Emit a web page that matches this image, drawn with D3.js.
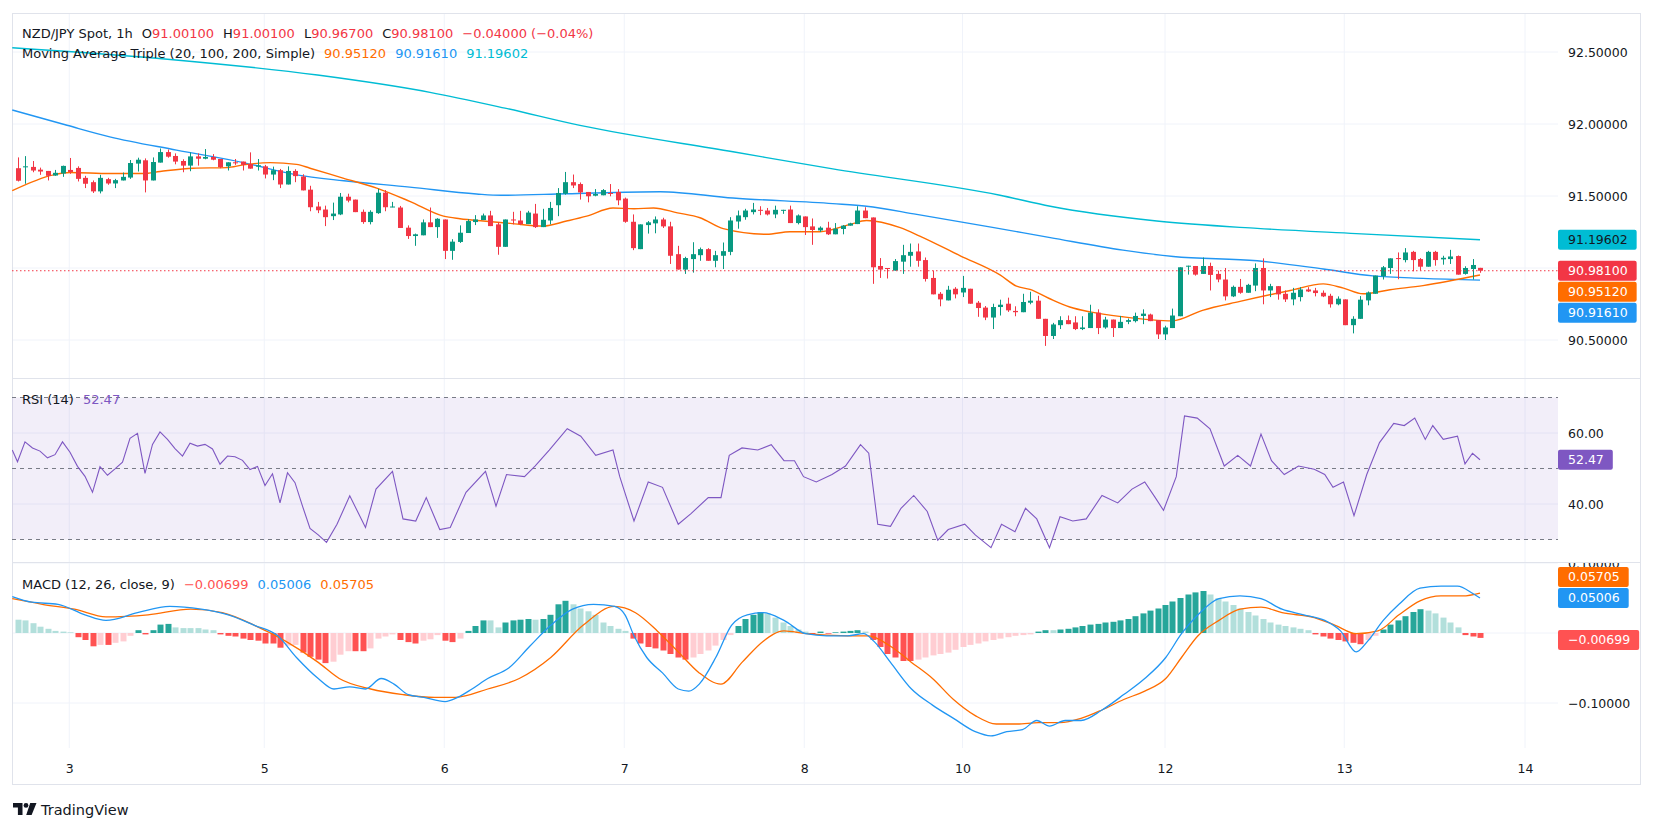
<!DOCTYPE html>
<html>
<head>
<meta charset="utf-8">
<script src="https://cdn.jsdelivr.net/npm/d3@7"></script>
<style>
  body { margin: 0; background: #fff; }
  svg text { font-family: "DejaVu Sans", sans-serif; }
</style>
</head>
<body>
<svg id="chart" width="1653" height="825"></svg>
<script>
// ---- data ----
const opens = [
91.693,91.700,91.702,91.683,91.674,91.642,91.656,91.681,91.695,91.626,
91.596,91.532,91.617,91.587,91.608,91.628,91.725,91.748,91.608,91.732,
91.805,91.778,91.743,91.711,91.775,91.759,91.771,91.757,91.706,91.734,
91.739,91.722,91.704,91.706,91.649,91.679,91.580,91.674,91.635,91.544,
91.427,91.406,91.360,91.372,91.495,91.475,91.390,91.319,91.381,91.523,
91.422,91.420,91.280,91.222,91.227,91.317,91.284,91.337,91.119,91.181,
91.243,91.319,91.333,91.365,91.303,91.147,91.337,91.330,91.305,91.378,
91.284,91.330,91.436,91.516,91.596,91.583,91.528,91.502,91.505,91.521,
91.528,91.482,91.321,91.131,91.298,91.310,91.337,91.289,91.096,90.989,
91.062,91.089,91.131,91.050,91.085,91.112,91.323,91.353,91.388,91.404,
91.399,91.372,91.399,91.406,91.312,91.358,91.289,91.261,91.280,91.234,
91.271,91.294,91.305,91.399,91.351,91.014,91.000,90.982,91.044,91.085,
91.115,91.055,90.931,90.821,90.775,90.856,90.830,90.856,90.759,90.725,
90.656,90.729,90.752,90.702,90.693,90.759,90.773,90.647,90.528,90.603,
90.638,90.622,90.576,90.583,90.690,90.587,90.642,90.583,90.626,90.631,
90.667,90.677,90.638,90.539,90.583,90.665,91.009,91.014,90.959,91.014,
90.959,90.920,90.803,90.869,90.828,90.878,91.000,90.844,90.874,90.821,
90.782,90.798,90.851,90.844,90.828,90.807,90.748,90.782,90.603,90.647,
90.775,90.821,90.943,91.000,91.069,91.055,91.112,91.062,91.009,91.112,
91.060,91.062,91.083,90.959,90.993,91.001];
const highs = [
91.768,91.777,91.743,91.697,91.674,91.681,91.711,91.764,91.706,91.640,
91.608,91.647,91.626,91.619,91.663,91.750,91.766,91.761,91.768,91.830,
91.823,91.796,91.755,91.803,91.796,91.826,91.791,91.757,91.734,91.757,
91.739,91.803,91.757,91.716,91.704,91.688,91.706,91.686,91.651,91.571,
91.459,91.433,91.454,91.521,91.516,91.475,91.406,91.401,91.550,91.541,
91.459,91.431,91.296,91.239,91.337,91.420,91.346,91.337,91.200,91.296,
91.339,91.367,91.378,91.397,91.319,91.337,91.390,91.397,91.397,91.445,
91.411,91.459,91.555,91.667,91.649,91.594,91.528,91.548,91.548,91.583,
91.548,91.489,91.372,91.303,91.326,91.358,91.349,91.321,91.154,91.078,
91.179,91.142,91.138,91.119,91.177,91.353,91.399,91.411,91.452,91.429,
91.417,91.433,91.404,91.433,91.372,91.358,91.344,91.289,91.321,91.312,
91.298,91.314,91.429,91.422,91.351,91.069,91.000,91.062,91.161,91.170,
91.170,91.073,90.982,90.833,90.876,90.867,90.945,90.856,90.771,90.736,
90.752,90.780,90.794,90.734,90.821,90.835,90.807,90.647,90.619,90.665,
90.670,90.665,90.665,90.745,90.713,90.661,90.642,90.667,90.649,90.690,
90.713,90.683,90.638,90.599,90.718,91.005,91.016,91.014,91.073,91.037,
90.982,91.000,90.878,90.924,90.890,91.032,91.067,90.890,90.874,90.844,
90.862,90.867,90.867,90.862,90.844,90.821,90.803,90.782,90.665,90.805,
90.837,90.947,91.014,91.067,91.108,91.138,91.119,91.069,91.119,91.119,
91.085,91.126,91.087,91.012,91.062,91.001];
const lows = [
91.601,91.585,91.665,91.647,91.608,91.640,91.633,91.654,91.601,91.555,
91.521,91.518,91.578,91.555,91.608,91.619,91.670,91.525,91.608,91.732,
91.766,91.720,91.665,91.672,91.711,91.755,91.748,91.693,91.677,91.716,
91.677,91.690,91.677,91.622,91.610,91.555,91.580,91.596,91.539,91.394,
91.381,91.291,91.333,91.367,91.456,91.388,91.307,91.303,91.376,91.394,
91.422,91.278,91.202,91.154,91.227,91.284,91.209,91.062,91.057,91.174,
91.243,91.298,91.333,91.291,91.092,91.147,91.303,91.298,91.305,91.278,
91.284,91.303,91.360,91.509,91.555,91.475,91.456,91.498,91.505,91.498,
91.436,91.314,91.124,91.131,91.239,91.241,91.278,91.028,90.989,90.959,
90.968,91.050,91.050,91.005,90.993,91.089,91.273,91.335,91.372,91.367,
91.365,91.346,91.376,91.312,91.303,91.229,91.161,91.250,91.229,91.234,
91.234,91.294,91.305,91.346,90.890,90.931,90.927,90.982,90.959,91.009,
91.009,90.906,90.817,90.734,90.775,90.789,90.798,90.752,90.661,90.638,
90.576,90.670,90.695,90.665,90.693,90.748,90.647,90.459,90.507,90.576,
90.610,90.569,90.569,90.583,90.541,90.578,90.521,90.583,90.610,90.622,
90.610,90.631,90.507,90.500,90.583,90.665,90.954,90.947,90.959,90.844,
90.901,90.775,90.798,90.821,90.828,90.839,90.748,90.798,90.780,90.764,
90.741,90.768,90.833,90.803,90.798,90.725,90.741,90.603,90.546,90.647,
90.741,90.821,90.920,90.959,90.922,91.039,90.977,90.982,91.009,91.016,
91.023,91.028,90.954,90.954,90.920,90.967];
const closes = [
91.606,91.706,91.677,91.670,91.640,91.661,91.709,91.667,91.619,91.585,
91.532,91.626,91.587,91.610,91.633,91.729,91.752,91.608,91.736,91.805,
91.773,91.739,91.711,91.775,91.759,91.771,91.752,91.700,91.734,91.729,
91.716,91.690,91.713,91.649,91.679,91.580,91.674,91.638,91.539,91.422,
91.401,91.353,91.378,91.495,91.468,91.388,91.319,91.390,91.523,91.422,
91.427,91.278,91.222,91.234,91.317,91.284,91.342,91.119,91.183,91.245,
91.326,91.337,91.365,91.291,91.147,91.337,91.330,91.305,91.385,91.284,
91.335,91.417,91.521,91.596,91.573,91.525,91.498,91.514,91.541,91.514,
91.470,91.321,91.138,91.303,91.317,91.337,91.289,91.085,90.989,91.069,
91.096,91.131,91.050,91.089,91.117,91.330,91.365,91.399,91.406,91.399,
91.372,91.404,91.404,91.312,91.365,91.284,91.264,91.280,91.234,91.273,
91.294,91.310,91.399,91.346,91.005,90.989,90.995,91.048,91.089,91.112,
91.050,90.924,90.817,90.782,90.849,90.817,90.862,90.752,90.722,90.656,
90.729,90.745,90.706,90.693,90.764,90.773,90.647,90.528,90.608,90.638,
90.610,90.576,90.587,90.690,90.583,90.642,90.583,90.626,90.638,90.667,
90.683,90.631,90.539,90.587,90.670,91.005,91.016,90.954,91.014,90.952,
90.920,90.803,90.869,90.828,90.883,91.000,90.844,90.874,90.817,90.782,
90.828,90.851,90.837,90.826,90.803,90.748,90.787,90.603,90.647,90.780,
90.830,90.947,91.005,91.067,91.062,91.108,91.055,91.009,91.112,91.055,
91.071,91.080,90.954,91.000,91.021,90.981];

// moving averages: [bar index, value]
const ma20 = [[-0.7,91.537],[4.8,91.647],[7,91.663],[12.3,91.656],[16.8,91.656],[19,91.670],[23.4,91.693],
  [27.9,91.697],[30.1,91.716],[33.7,91.732],[37.2,91.720],[39,91.693],[43.4,91.624],[47.9,91.555],[52.3,91.463],
  [56.8,91.360],[59,91.342],[62.1,91.326],[65.7,91.310],[70.1,91.291],[73.2,91.326],[75.9,91.360],[79.4,91.417],
  [82.2,91.411],[84.8,91.417],[88,91.383],[91,91.349],[94.1,91.273],[99.9,91.234],[103,91.252],[107,91.252],
  [111,91.303],[113.2,91.330],[117.7,91.280],[120.3,91.222],[125.7,91.085],[131,90.952],[133.2,90.874],
  [135,90.851],[137.5,90.790],[140.3,90.729],[143,90.695],[147.4,90.661],[154,90.633],[158,90.706],
  [163,90.768],[169.7,90.844],[174.1,90.890],[176.8,90.860],[179.4,90.821],[183,90.849],[187.4,90.878],[195,90.9512]];
const ma100 = [[-0.7,92.097],[6.6,91.991],[12.3,91.911],[21.2,91.819],[30.1,91.732],[37.2,91.647],[43.5,91.606],
  [52.3,91.562],[61.2,91.514],[64.5,91.505],[73.2,91.516],[85.7,91.530],[95.4,91.486],[108.7,91.447],
  [113.2,91.429],[119.9,91.372],[130,91.282],[137.7,91.211],[147.4,91.124],[154.1,91.080],[165.3,91.050],
  [174.1,90.993],[180.7,90.945],[187.4,90.928],[195,90.9161]];
const ma200 = [[-0.7,92.53],[20,92.45],[40,92.34],[55,92.22],[65,92.11],[75,91.99],[95.4,91.807],
  [108.7,91.688],[131,91.505],[137.7,91.429],[151.9,91.326],[165.3,91.275],[178.5,91.239],[195,91.19602]];

const rsi = [[-0.7,55.2],[0,51.9],[1,57.5],[2,55.8],[3,54.9],[4,53.0],[5,53.9],[6,57.5],[7,54.6],[8,50.6],[9,47.8],
  [10,43.3],[11,50.5],[12,48.1],[13,49.9],[14,51.8],[15,58.5],[16,59.9],[17,48.6],[18,56.8],[19,60.3],[20,58.2],
  [21,55.6],[22,53.5],[23,57.1],[24,56.3],[25,56.8],[26,55.5],[27,51.2],[28,53.5],[29,53.3],[30,52.3],[31,49.7],
  [32,50.6],[33,45.2],[34,48.5],[35,40.3],[36,48.8],[37,46.0],[38,39.4],[39,33.1],[40.1,31.3],[41.2,29.2],
  [42.6,34.3],[44.3,42.3],[46.4,33.4],[47.8,44.2],[50,49.2],[51.4,35.8],[53.1,35.2],[54.5,41.8],[56.3,32.8],
  [57.7,33.4],[59.8,43.3],[62.4,49.2],[63.8,39.4],[65.2,48.3],[67.6,47.7],[69,50.7],[70.9,55.2],[73.3,61.2],
  [75.1,59.1],[77.1,53.7],[79.4,55.2],[80.3,47.7],[82.2,35.2],[84.1,46.2],[86,44.7],[88.1,34.3],[89.8,37.3],
  [92.1,41.8],[93.8,41.8],[94.9,53.7],[96.6,55.8],[98.7,55.2],[100.5,56.7],[102.2,52.2],[103.6,52.2],[104.8,47.7],
  [106.5,46.2],[108.6,48.3],[110.4,50.7],[112.4,56.7],[113.5,54.3],[114.7,34.3],[116.4,33.7],[117.8,38.8],
  [119.5,42.4],[121.3,37.9],[122.7,29.8],[124.1,32.8],[126.3,34.3],[127.7,31.3],[129.8,27.7],[131.2,34.3],
  [133,32.2],[134.4,38.8],[135.9,35.8],[137.6,27.7],[139,36.4],[140.7,35.2],[142.5,35.8],[144.6,42.4],
  [146.7,40.3],[148.6,44.2],[150.3,46.2],[151.7,41.8],[152.8,38.2],[154.5,47.7],[155.6,64.8],[157.3,64.2],
  [159,61.2],[160.9,50.7],[162.7,53.7],[164.4,50.7],[165.8,59.7],[167.2,52.2],[168.9,48.3],[170.8,50.7],
  [172.9,49.8],[174.3,48.3],[175.4,44.7],[176.8,46.2],[178.2,36.7],[179.9,48.3],[181.6,57.3],[183.5,62.7],
  [184.9,62.1],[186.3,64.2],[187.7,58.2],[188.7,62.1],[190.1,58.2],[192,59.1],[193,51.3],[194,54.3],[195,52.47]];

const macdLine = [[-0.7,0.052],[1.9,0.044],[5.4,0.041],[9,0.026],[11.8,0.018],[16,0.029],[20.3,0.038],[24.5,0.034],
  [28.1,0.026],[31.6,0.011],[34.7,-0.004],[37.2,-0.035],[40.1,-0.065],[42.2,-0.080],[44.3,-0.077],[46.4,-0.080],
  [48.5,-0.065],[50.2,-0.073],[52.1,-0.088],[54.2,-0.092],[57,-0.098],[58.7,-0.092],[60.6,-0.080],[62.7,-0.065],
  [65.5,-0.050],[68.3,-0.019],[71.1,0.011],[74,0.034],[76.8,0.041],[79.6,0.038],[81,0.026],[82.2,-0.004],
  [83.9,-0.035],[86,-0.057],[88.1,-0.080],[89.5,-0.083],[90.9,-0.073],[93.1,-0.035],[95.2,0.011],[97.3,0.026],
  [99.4,0.029],[102.2,0.018],[105.1,-0.001],[107.9,-0.004],[110.7,-0.004],[112.8,-0.001],[114.2,-0.012],
  [116.4,-0.042],[119.2,-0.080],[122,-0.103],[124.8,-0.122],[127.7,-0.141],[129.8,-0.147],[131.9,-0.141],
  [134,-0.138],[135.9,-0.125],[137.6,-0.133],[139.7,-0.125],[141.8,-0.125],[144.6,-0.110],[147.5,-0.088],
  [150.3,-0.065],[153.1,-0.035],[155.2,-0.001],[157.4,0.026],[160.2,0.049],[163,0.053],[165.8,0.049],
  [168.6,0.034],[171.5,0.026],[174.3,0.018],[176.4,0.003],[178.5,-0.027],[180,-0.012],[182.1,0.018],
  [184.2,0.041],[187,0.064],[189.8,0.067],[192,0.067],[194.1,0.056],[195,0.05006]];
const signalLine = [[-0.7,0.049],[3.3,0.041],[7.6,0.034],[11.8,0.023],[17.4,0.026],[23.1,0.034],[27.3,0.029],
  [31.6,0.011],[35.8,-0.012],[40.1,-0.042],[42.9,-0.065],[47.1,-0.080],[51.4,-0.088],[55.6,-0.092],[58.4,-0.092],
  [62.7,-0.080],[66.9,-0.065],[71.1,-0.035],[75.4,0.011],[79.6,0.038],[82.4,0.029],[85.3,0.003],[88.1,-0.027],
  [90.9,-0.057],[93.8,-0.073],[96.6,-0.042],[99.4,-0.012],[102.2,0.003],[105.1,-0.001],[110.7,-0.004],
  [113.5,-0.004],[116.4,-0.019],[119.2,-0.042],[122,-0.065],[124.8,-0.095],[127.7,-0.118],[130.5,-0.130],
  [133.3,-0.130],[136.1,-0.128],[139,-0.128],[141.8,-0.122],[144.6,-0.110],[147.5,-0.095],[150.3,-0.083],
  [153.1,-0.065],[155.2,-0.035],[157.4,-0.004],[160.2,0.018],[163,0.034],[165.8,0.037],[168.6,0.029],
  [172.9,0.022],[175.7,0.011],[178.5,-0.001],[181.4,0.003],[184.2,0.026],[187,0.046],[189.8,0.053],
  [192.7,0.053],[195,0.05705]];
const hist = [
 .019,.018,.014,.009,.006,.003,.002,.001,-.006,-.010,
 -.019,-.017,-.017,-.014,-.012,-.004,.004,-.002,.004,.012,
 .013,.008,.007,.007,.007,.005,.004,-.002,-.004,-.005,
 -.008,-.010,-.011,-.015,-.015,-.021,-.018,-.017,-.028,-.034,
 -.038,-.043,-.041,-.031,-.026,-.026,-.026,-.022,-.008,-.005,
 -.002,-.010,-.013,-.015,-.011,-.009,-.003,-.011,-.013,-.008,
 .003,.010,.018,.018,.008,.015,.018,.019,.020,.019,
 .020,.026,.041,.046,.041,.035,.031,.026,.015,.010,
 .006,.003,-.008,-.015,-.020,-.022,-.025,-.030,-.035,-.038,
 -.035,-.030,-.025,-.018,-.010,-.003,.010,.020,.026,.030,
 .028,.022,.015,.010,.005,.002,-.002,.002,-.001,.001,
 .002,.003,.004,.002,-.010,-.020,-.030,-.035,-.040,-.040,
 -.038,-.035,-.032,-.030,-.028,-.024,-.020,-.017,-.015,-.012,
 -.010,-.008,-.006,-.004,-.003,-.002,.002,.004,.004,.005,
 .006,.008,.010,.012,.013,.015,.016,.018,.020,.024,
 .028,.032,.035,.040,.045,.050,.055,.058,.060,.055,
 .050,.045,.040,.035,.030,.025,.020,.015,.012,.010,
 .008,.006,.004,-.002,-.005,-.008,-.010,-.012,-.014,-.016,
 -.010,-.004,.005,.012,.018,.024,.030,.034,.032,.028,
 .022,.015,.008,-.003,-.005,-.00699];

const priceTicks = [90.5, 91, 91.5, 92, 92.5];
const rsiTicks = [40, 60];
const rsiBands = [30, 50, 70];
const macdGridTicks = [0.1, 0, -0.1];
const macdLabelTicks = [0.1, -0.1];
const dayLabels = ["3", "5", "6", "7", "8", "10", "12", "13", "14"];
const dayBars = [6.9, 32.9, 56.9, 80.9, 104.9, 126, 153, 176.9, 201];

// ---- layout ----
const svg = d3.select("#chart");
const plotL = 12, plotR = 1558, frameR = 1641, frameT = 13, frameB = 785;
const mainB = 378, rsiB = 562, macdB = 748;
const up = "#089981", down = "#f23645";
const c20 = "#ff6d00", c100 = "#2196f3", c200 = "#00bcd4", cRsi = "#7e57c2";
const gridColor = "#f0f3fa", lineColor = "#e0e3eb", textColor = "#131722";

const x = d3.scaleLinear().domain([0, 195]).range([17.5, 1480]);
const yMain = d3.scaleLinear().domain([90.5, 91.5]).range([340, 196]);
const yRsi = d3.scaleLinear().domain([30, 70]).range([539.5, 397.5]);
const yMacd = d3.scaleLinear().domain([-0.1, 0]).range([703, 633]);

const defs = svg.append("defs");
[["clipMain", frameT, mainB], ["clipRsi", mainB, rsiB], ["clipMacd", rsiB, macdB]].forEach(([id, t, b]) => {
  defs.append("clipPath").attr("id", id).append("rect")
    .attr("x", plotL).attr("y", t).attr("width", plotR - plotL).attr("height", b - t);
});
defs.append("clipPath").attr("id", "clipMacdAxis").append("rect")
  .attr("x", plotR).attr("y", rsiB + 1).attr("width", frameR - plotR).attr("height", macdB - rsiB);

// vertical day grid
svg.append("g").selectAll("line").data(dayBars).join("line")
  .attr("x1", d => x(d)).attr("x2", d => x(d))
  .attr("y1", frameT).attr("y2", macdB)
  .attr("stroke", gridColor);

// horizontal grids
const hGrid = (scale, ticks, top, bottom) => {
  svg.append("g").selectAll("line").data(ticks.filter(t => scale(t) > top && scale(t) < bottom)).join("line")
    .attr("x1", plotL).attr("x2", plotR)
    .attr("y1", d => scale(d)).attr("y2", d => scale(d))
    .attr("stroke", gridColor);
};
hGrid(yMain, priceTicks, frameT, mainB);
hGrid(yRsi, rsiTicks, mainB, rsiB);
hGrid(yMacd, macdGridTicks, rsiB, macdB);

// frame & pane separators
svg.append("rect").attr("x", plotL + 0.5).attr("y", frameT + 0.5)
  .attr("width", frameR - plotL - 1).attr("height", frameB - frameT - 1)
  .attr("fill", "none").attr("stroke", lineColor);
[mainB, rsiB].forEach(y => svg.append("line").attr("x1", plotL).attr("x2", frameR)
  .attr("y1", y + 0.5).attr("y2", y + 0.5).attr("stroke", lineColor));

// ---- main pane ----
const main = svg.append("g").attr("clip-path", "url(#clipMain)");
const curve = d3.line().x(d => x(d[0])).curve(d3.curveMonotoneX);

[[ma200, c200], [ma100, c100], [ma20, c20]].forEach(([data, color]) => {
  main.append("path").datum(data)
    .attr("d", curve.y(d => yMain(d[1])))
    .attr("fill", "none").attr("stroke", color).attr("stroke-width", 1.4);
});

const bars = d3.range(opens.length);
const candle = main.append("g").selectAll("g").data(bars).join("g");
candle.append("line")
  .attr("x1", i => Math.round(x(i)) + 0.5).attr("x2", i => Math.round(x(i)) + 0.5)
  .attr("y1", i => yMain(highs[i])).attr("y2", i => yMain(lows[i]))
  .attr("stroke", i => closes[i] >= opens[i] ? up : down);
candle.append("rect")
  .attr("x", i => Math.round(x(i)) - 2)
  .attr("width", 5)
  .attr("y", i => yMain(Math.max(opens[i], closes[i])))
  .attr("height", i => Math.max(1, Math.abs(yMain(opens[i]) - yMain(closes[i]))))
  .attr("fill", i => closes[i] >= opens[i] ? up : down);

// last price dotted line
const lastClose = closes[closes.length - 1];
main.append("line").attr("x1", plotL).attr("x2", plotR)
  .attr("y1", yMain(lastClose)).attr("y2", yMain(lastClose))
  .attr("stroke", down).attr("stroke-dasharray", "1.5,2.5");

// ---- RSI pane ----
const rsiG = svg.append("g").attr("clip-path", "url(#clipRsi)");
rsiG.append("rect").attr("x", plotL).attr("width", plotR - plotL)
  .attr("y", yRsi(70)).attr("height", yRsi(30) - yRsi(70))
  .attr("fill", cRsi).attr("fill-opacity", 0.1);
rsiG.selectAll(".band").data(rsiBands).join("line")
  .attr("x1", plotL).attr("x2", plotR)
  .attr("y1", d => yRsi(d)).attr("y2", d => yRsi(d))
  .attr("stroke", "#787b86").attr("stroke-dasharray", "4,4");
rsiG.append("path").datum(rsi)
  .attr("d", d3.line().x(d => x(d[0])).y(d => yRsi(d[1])))
  .attr("fill", "none").attr("stroke", cRsi).attr("stroke-width", 1.1);

// ---- MACD pane ----
const macdG = svg.append("g").attr("clip-path", "url(#clipMacd)");
macdG.selectAll("rect").data(bars).join("rect")
  .attr("x", i => Math.round(x(i)) - 2.5)
  .attr("width", 6)
  .attr("y", i => Math.min(yMacd(0), yMacd(hist[i])))
  .attr("height", i => Math.abs(yMacd(hist[i]) - yMacd(0)))
  .attr("fill", i => {
    const prev = i > 0 ? hist[i - 1] : hist[i];
    if (hist[i] >= 0) return prev < hist[i] ? "#26a69a" : "#b2dfdb";
    return prev < hist[i] ? "#ffcdd2" : "#ff5252";
  });
[[signalLine, c20], [macdLine, c100]].forEach(([data, color]) => {
  macdG.append("path").datum(data)
    .attr("d", d3.line().x(d => x(d[0])).y(d => yMacd(d[1])).curve(d3.curveMonotoneX))
    .attr("fill", "none").attr("stroke", color).attr("stroke-width", 1.3);
});

// ---- axes ----
const fs = 12.5;
const axisText = (g) => {
  g.select(".domain").remove();
  g.selectAll("text").attr("fill", textColor).attr("font-size", fs)
    .attr("font-family", "DejaVu Sans, sans-serif");
};
svg.append("g").attr("transform", `translate(${plotR},0)`)
  .call(d3.axisRight(yMain).tickValues(priceTicks).tickSize(0).tickPadding(10).tickFormat(d3.format(".5f")))
  .call(axisText);
svg.append("g").attr("transform", `translate(${plotR},0)`)
  .call(d3.axisRight(yRsi).tickValues(rsiTicks).tickSize(0).tickPadding(10).tickFormat(d3.format(".2f")))
  .call(axisText);
svg.append("g").attr("clip-path", "url(#clipMacdAxis)")
  .append("g").attr("transform", `translate(${plotR},0)`)
  .call(d3.axisRight(yMacd).tickValues(macdLabelTicks).tickSize(0).tickPadding(10).tickFormat(d3.format(".5f")))
  .call(axisText);

svg.append("g").attr("transform", `translate(0,769)`)
  .call(d3.axisBottom(x).tickValues(dayBars).tickSize(0).tickFormat((d, i) => dayLabels[i]))
  .call(axisText)
  .call(g => g.selectAll("text").attr("y", 0).attr("dy", "0.35em"));

// ---- price tags ----
const tag = (y, text, fill, color) => {
  const g = svg.append("g");
  const rect = g.append("rect").attr("x", plotR).attr("y", y - 10).attr("height", 20).attr("rx", 2).attr("fill", fill);
  const t = g.append("text").attr("x", plotR + 10).attr("y", y).attr("dy", "0.35em")
    .attr("fill", color).attr("font-size", fs).text(text);
  rect.attr("width", t.node().getComputedTextLength() + 19);
};
const f5 = d3.format(".5f");
const last = a => a[a.length - 1][1];

const yClose = yMain(lastClose);
tag(yMain(last(ma200)), f5(last(ma200)), c200, textColor);
tag(yClose, f5(lastClose), down, "#fff");
const y20 = Math.max(yMain(last(ma20)), yClose + 21);
tag(y20, f5(last(ma20)), c20, "#fff");
const y100 = Math.max(yMain(last(ma100)), y20 + 21);
tag(y100, f5(last(ma100)), c100, "#fff");

const lastRsi = last(rsi);
tag(yRsi(lastRsi), d3.format(".2f")(lastRsi), cRsi, "#fff");

const lastHist = hist[hist.length - 1];
const yBlue = yMacd(last(macdLine));
tag(Math.min(yMacd(last(signalLine)), yBlue - 21), f5(last(signalLine)), c20, "#fff");
tag(yBlue, f5(last(macdLine)), c100, "#fff");
tag(yMacd(lastHist) + 2, f5(lastHist), "#ff5252", "#fff");

// ---- legends ----
const legend = (y, parts) => {
  const t = svg.append("text").attr("x", 22).attr("y", y).attr("font-size", 13);
  parts.forEach(([s, color, dx]) => t.append("tspan").attr("dx", dx || 0).attr("fill", color).text(s));
};
const n = closes.length - 1;
const chg = closes[n] - closes[n - 1];
legend(37.5, [["NZD/JPY Spot, 1h", textColor],
  ["O", textColor, 9], [f5(opens[n]), down], ["H", textColor, 9], [f5(highs[n]), down],
  ["L", textColor, 9], [f5(lows[n]), down], ["C", textColor, 9], [f5(closes[n]), down],
  [`${f5(chg)} (${d3.format(".2f")(chg / closes[n - 1] * 100)}%)`, down, 9]]);
legend(57.5, [["Moving Average Triple (20, 100, 200, Simple)", textColor],
  [f5(last(ma20)), c20, 9], [f5(last(ma100)), c100, 9], [f5(last(ma200)), c200, 9]]);
legend(403.5, [["RSI (14)", textColor], [d3.format(".2f")(lastRsi), cRsi, 9]]);
legend(589, [["MACD (12, 26, close, 9)", textColor], [f5(lastHist), "#ff5252", 9],
  [f5(last(macdLine)), c100, 9], [f5(last(signalLine)), c20, 9]]);

// ---- TradingView mark ----
const logo = svg.append("g").attr("fill", textColor);
logo.append("path").attr("d", "M13,803h9.5v12h-4.6v-7.4h-4.9z");
logo.append("circle").attr("cx", 26).attr("cy", 805.4).attr("r", 2.4);
logo.append("path").attr("d", "M30.2,803h6.3l-4.9,12h-5.4z");
svg.append("text").attr("x", 41).attr("y", 815).attr("font-size", 14.5)
  .attr("font-family", "Roboto, sans-serif").attr("fill", textColor).text("TradingView");
</script>
</body>
</html>
